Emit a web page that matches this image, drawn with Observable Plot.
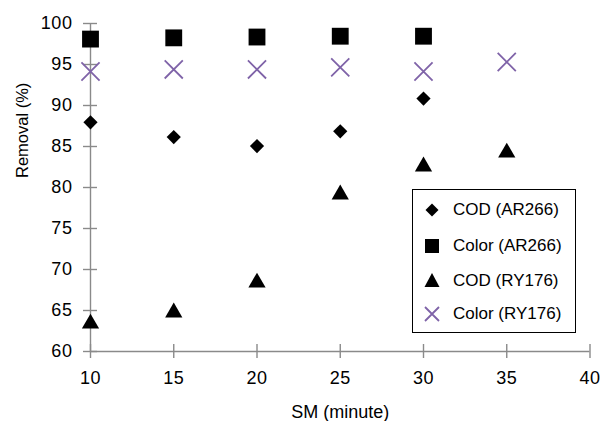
<!DOCTYPE html>
<html><head><meta charset="utf-8">
<script src="https://cdn.jsdelivr.net/npm/d3@7"></script>
<script src="https://cdn.jsdelivr.net/npm/@observablehq/plot@0.6"></script>
<style>
body{margin:0;background:#fff;}
#wrap{position:relative;width:601px;height:421px;font-family:"Liberation Sans",Arial,sans-serif;}
#legend{position:absolute;left:412px;top:189px;width:164px;height:144px;border:1.3px solid #000;background:#fff;box-sizing:border-box;}
.row{position:absolute;left:0;height:30px;display:flex;align-items:center;font-size:17px;color:#000;white-space:nowrap;}
.row svg{width:20px;height:20px;margin-left:9px;margin-right:11px;overflow:visible;}
</style>
</head><body>
<div id="wrap"><div id="chart"></div><div id="legend"></div></div>
<script>
const minutes = [10, 15, 20, 25, 30, 35];
const xTicks = [10, 15, 20, 25, 30, 35, 40];
const yTicks = [60, 65, 70, 75, 80, 85, 90, 95, 100];
const codAR266 = [87.95, 86.15, 85.05, 86.85, 90.85];      // 10..30
const colorAR266 = [98.1, 98.25, 98.35, 98.45, 98.45];     // 10..30
const codRY176 = [63.1, 64.45, 68.1, 78.85, 82.25, 83.95]; // 10..35
const colorRY176 = [94.15, 94.4, 94.4, 94.65, 94.15, 95.3];// 10..35
const seriesNames = ["COD (AR266)", "Color (AR266)", "COD (RY176)", "Color (RY176)"];
const xLabel = "SM (minute)";
const yLabel = "Removal (%)";

const toRows = (vals) => vals.map((v, i) => ({x: minutes[i], y: v}));
const axisColor = "#8a8a8a";
const purple = "#7f63a8";

const chart = Plot.plot({
  width: 601, height: 421,
  marginLeft: 90, marginRight: 11.5, marginTop: 23, marginBottom: 70,
  style: {fontFamily: '"Liberation Sans", Arial, sans-serif', background: "#fff"},
  x: {domain: [10, 40], axis: null},
  y: {domain: [60, 100], axis: null},
  marks: [
    Plot.ruleX([10], {stroke: axisColor, strokeWidth: 1.4}),
    Plot.ruleY([60], {stroke: axisColor, strokeWidth: 1.4}),
    Plot.axisY({ticks: yTicks, tickSize: 14, dx: 7, tickFormat: () => "", label: null, stroke: axisColor, strokeWidth: 1.4}),
    Plot.axisX({ticks: xTicks, tickSize: 14, dy: -7, tickFormat: () => "", label: null, stroke: axisColor, strokeWidth: 1.4}),
    Plot.axisY({ticks: yTicks, tickSize: 0, tickPadding: 18, fontSize: 18, fill: "#000", label: null}),
    Plot.axisX({ticks: xTicks, tickSize: 0, tickPadding: 20, fontSize: 18, fill: "#000", label: null}),
    Plot.dot(toRows(colorAR266), {x: "x", y: "y", symbol: "square", r: 9.5, fill: "#000", stroke: "none"}),
    Plot.dot(toRows(colorRY176), {x: "x", y: "y", symbol: "times", r: 8.3, stroke: purple, strokeWidth: 1.8}),
    Plot.dot(toRows(codAR266), {x: "x", y: "y", symbol: "diamond2", r: 6.4, fill: "#000", stroke: "none"}),
    Plot.dot(toRows(codRY176), {x: "x", y: "y", symbol: "triangle", r: 6.4, dy: -2.5, fill: "#000", stroke: "none"}),
    Plot.text([xLabel], {frameAnchor: "bottom", dy: 61, fontSize: 18, fill: "#000", lineAnchor: "middle"}),
    Plot.text([yLabel], {frameAnchor: "left", dx: -68, dy: -9.5, rotate: -90, fontSize: 16.5, fill: "#000", lineAnchor: "middle"})
  ]
});
document.getElementById("chart").appendChild(chart);

// Legend
const sym = {
  "COD (AR266)": '<path d="M0,-6.5L6.5,0L0,6.5L-6.5,0Z" fill="#000"/>',
  "Color (AR266)": '<rect x="-7" y="-7" width="14" height="14" fill="#000"/>',
  "COD (RY176)": '<path d="M0,-8L7.5,6L-7.5,6Z" fill="#000"/>',
  "Color (RY176)": '<path d="M-7,-7L7,7M7,-7L-7,7" stroke="' + purple + '" stroke-width="1.8" fill="none"/>'
};
const legend = document.getElementById("legend");
const rowCenters = [20, 55.5, 90.5, 124];
seriesNames.forEach((name, i) => {
  const row = document.createElement("div");
  row.className = "row";
  row.style.top = (rowCenters[i] - 15) + "px";
  row.innerHTML = '<svg viewBox="-10 -10 20 20">' + sym[name] + '</svg><span>' + name + '</span>';
  legend.appendChild(row);
});

// widen horizontal axis texts slightly, like the reference
d3.select(chart).selectAll("g[aria-label='x-axis tick label'] text, g[aria-label='y-axis tick label'] text").style("letter-spacing", "0.6px");
</script>
</body></html>
